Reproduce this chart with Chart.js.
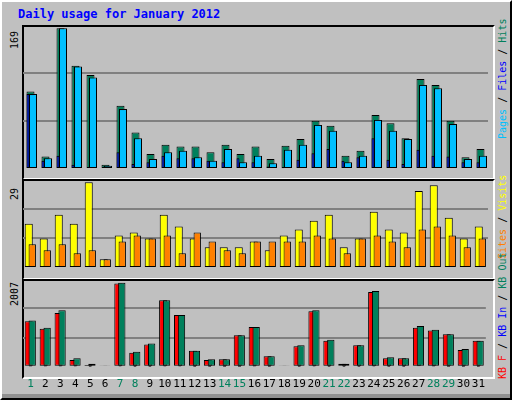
<!DOCTYPE html>
<html>
<head>
<meta charset="utf-8">
<script src="https://cdn.jsdelivr.net/npm/chart.js@4"></script>
<style>
  body { margin: 0; background: #c0c0c0; }
  #frame { position: absolute; left: 0; top: 0; width: 508px; height: 396px; background: #c0c0c0;
           border: 2px solid; border-color: #fff #000 #000 #fff; font-family: "DejaVu Sans Mono", monospace; }
  .panel { position: absolute; left: 20px; width: 469px; border: 2px solid; border-color: #000 #fff #fff #000; }
  .cv { position: absolute; left: 23px; }
  .rot { position: absolute; transform-origin: 0 0; transform: rotate(-90deg); white-space: nowrap; font-size: 10px; line-height: 10px; }
  #title { position: absolute; left: 16px; top: 5px; font-size: 12px; font-weight: bold; color: #0000ff; }
  #strip { position: absolute; left: 0; top: 392px; width: 508px; height: 4px; background: #909090; }
</style>
</head>
<body>
<div id="frame">
  <div id="title">Daily usage for January 2012</div>
  <div class="panel" style="top:23px;height:151px"></div>
  <div class="panel" style="top:177px;height:97px"></div>
  <div class="panel" style="top:277px;height:96px"></div>
  <div id="strip"></div>
  <div class="rot" style="left:8px;top:47px">169</div>
  <div class="rot" style="left:8px;top:198px">29</div>
  <div class="rot" style="left:8px;top:304px">2007</div>
  <div class="rot" style="left:496px;top:137px"><span style="color:#00c0ff">Pages</span> / <span style="color:#0000ff">Files</span> / <span style="color:#00805c">Hits</span></div>
  <div class="rot" style="left:496px;top:257px"><span style="color:#ff8000">Sites</span> / <span style="color:#ffff00">Visits</span></div>
  <div class="rot" style="left:496px;top:377px"><span style="color:#ff0000">KB F</span> / <span style="color:#0000ff">KB In</span> / <span style="color:#00805c">KB Out</span></div>
</div>
<canvas id="c1" class="cv" style="top:25px"></canvas>
<canvas id="c2" class="cv" style="top:179px"></canvas>
<canvas id="c3" class="cv" style="top:279px"></canvas>
<script>
const days = Array.from({length: 31}, (_, i) => String(i + 1));
const weekendDays = [1, 7, 8, 14, 15, 21, 22, 28, 29];

const hits  = [93,15,169,124,113,5,76,44,18,29,27,27,20,29,18,27,12,28,36,58,52,16,22,65,55,37,108,101,58,14,24];
const files = [90,13,169,123,110,4,72,37,12,20,22,14,10,24,8,16,7,23,29,53,46,8,16,59,46,36,101,97,54,12,16];
const pages = [90,10,16,5,0,0,20,6,8,16,13,13,10,8,13,8,3,1,11,19,24,10,14,37,11,6,23,16,15,8,8];

const visits = [15,10,18,15,29,3,11,12,10,18,14,10,7,7,7,9,6,11,13,16,18,7,10,19,13,12,26,28,17,10,14];
const sites  = [8,6,8,5,6,3,9,11,10,11,5,12,9,6,5,9,9,9,9,11,10,5,10,11,9,7,13,14,11,7,10];

const kbF   = [1084,908,1282,161,44,22,1985,337,535,1590,1238,381,161,183,754,952,249,22,491,1326,623,73,513,1787,205,205,930,864,776,403,623];
const kbIn  = [8,5,10,6,2,0,6,3,3,6,5,3,2,2,4,5,2,0,3,6,4,1,3,8,2,2,12,10,4,3,4];
const kbOut = [1106,930,1348,205,73,22,2007,359,557,1590,1238,381,183,183,754,952,249,22,513,1348,645,73,513,1809,227,205,974,886,776,425,623];

const FONT = 'DejaVu Sans Mono';

// draw datasets in the given index order (bottom first)
function drawOrder(order) {
  return {
    id: 'draw-order',
    beforeDatasetsDraw(chart) {
      for (const i of order) chart.getDatasetMeta(i).controller.draw();
      return false;
    }
  };
}

// cp sets the offset between grouped bars, bp > 1 makes them overlap
function bar(data, color, cp, bp) {
  return { data, backgroundColor: color, borderColor: '#000', borderWidth: 1,
           borderSkipped: false, categoryPercentage: cp, barPercentage: bp };
}

function panel(id, w, h, datasets, ymax, order, showX) {
  const cv = document.getElementById(id);
  cv.width = w; cv.height = h;
  cv.style.width = w + 'px'; cv.style.height = h + 'px';
  return new Chart(cv, {
    type: 'bar',
    data: { labels: days, datasets },
    options: {
      responsive: false, animation: false,
      layout: { padding: 0 },
      plugins: { legend: { display: false }, tooltip: { enabled: false } },
      scales: {
        x: {
          grid: { display: false }, border: { display: false },
          ticks: {
            display: showX, maxRotation: 0, autoSkip: false, padding: 3,
            font: { family: FONT, size: 11 },
            color: ctx => weekendDays.includes(ctx.index + 1) ? '#00805c' : '#000'
          }
        },
        y: {
          min: 0, max: ymax, border: { display: false },
          ticks: { display: false, stepSize: ymax / 3 },
          grid: { drawTicks: false, lineWidth: 2,
                  color: ctx => (ctx.index === 1 || ctx.index === 2) ? '#808080' : 'rgba(0,0,0,0)' }
        }
      }
    },
    plugins: [drawOrder(order)]
  });
}

// pages, hits, files -> draw hits, pages, files
panel('c1', 465, 152, [
  bar(pages, '#0000ff', 0.5, 1.2),
  bar(hits, '#00805c', 0.5, 3.2),
  bar(files, '#00c0ff', 0.5, 3.2)
], 173, [1, 0, 2], false);
panel('c2', 465, 97, [
  bar(visits, '#ffff00', 0.467, 2.3),
  bar(sites, '#ff8000', 0.467, 2.1)
], 30.1, [0, 1], false);
panel('c3', 465, 115, [
  bar(kbF, '#ff0000', 0.35, 4.6),
  bar(kbIn, '#0000ff', 0.35, 1.7),
  bar(kbOut, '#00805c', 0.35, 4.2)
], 2095, [0, 1, 2], true);
</script>
</body>
</html>
